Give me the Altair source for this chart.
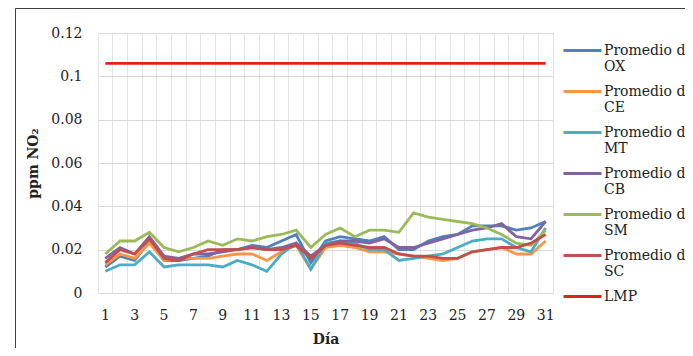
import altair as alt
import pandas as pd

days = list(range(1, 32))

ox = [0.012, 0.017, 0.015, 0.024, 0.015, 0.015, 0.016, 0.017, 0.020, 0.020,
      0.022, 0.021, 0.024, 0.027, 0.014, 0.024, 0.026, 0.025, 0.024, 0.026,
      0.020, 0.020, 0.024, 0.026, 0.027, 0.031, 0.031, 0.031, 0.029, 0.030, 0.033]
ce = [0.013, 0.018, 0.016, 0.023, 0.015, 0.016, 0.016, 0.016, 0.017, 0.018,
      0.018, 0.015, 0.019, 0.022, 0.011, 0.021, 0.022, 0.021, 0.019, 0.019,
      0.018, 0.017, 0.016, 0.015, 0.016, 0.019, 0.020, 0.021, 0.018, 0.018, 0.024]
mt = [0.010, 0.013, 0.013, 0.019, 0.012, 0.013, 0.013, 0.013, 0.012, 0.015,
      0.013, 0.010, 0.018, 0.023, 0.011, 0.023, 0.024, 0.023, 0.020, 0.020,
      0.015, 0.016, 0.017, 0.018, 0.021, 0.024, 0.025, 0.025, 0.021, 0.019, 0.030]
cb = [0.016, 0.021, 0.018, 0.026, 0.017, 0.016, 0.018, 0.018, 0.019, 0.020,
      0.021, 0.020, 0.021, 0.023, 0.017, 0.022, 0.024, 0.024, 0.023, 0.025,
      0.021, 0.021, 0.023, 0.025, 0.027, 0.029, 0.030, 0.032, 0.026, 0.025, 0.033]
sm = [0.018, 0.024, 0.024, 0.028, 0.021, 0.019, 0.021, 0.024, 0.022, 0.025,
      0.024, 0.026, 0.027, 0.029, 0.021, 0.027, 0.030, 0.026, 0.029, 0.029,
      0.028, 0.037, 0.035, 0.034, 0.033, 0.032, 0.030, 0.027, 0.023, 0.022, 0.029]
sc = [0.014, 0.020, 0.018, 0.025, 0.016, 0.015, 0.018, 0.020, 0.020, 0.020,
      0.021, 0.020, 0.020, 0.022, 0.016, 0.022, 0.023, 0.022, 0.021, 0.021,
      0.018, 0.017, 0.017, 0.016, 0.016, 0.019, 0.020, 0.021, 0.021, 0.023, 0.027]
lmp_value = 0.106

series_names = ["Promedio de OX", "Promedio de CE", "Promedio de MT",
                "Promedio de CB", "Promedio de SM", "Promedio de SC", "LMP"]
series_colors = ["#4F81BD", "#F79646", "#4BACC6", "#8064A2", "#9BBB59", "#C0504D", "#E0201B"]
y_ticks = [0, 0.02, 0.04, 0.06, 0.08, 0.1, 0.12]

values = [ox, ce, mt, cb, sm, sc, [lmp_value] * len(days)]
rows = []
for name, vals in zip(series_names, values):
    for d, v in zip(days, vals):
        rows.append({"dia": d, "valor": v, "serie": name})
df = pd.DataFrame(rows)

FONT = "DejaVu Serif"

lines = alt.Chart(df).mark_line(strokeWidth=2.8).encode(
    x=alt.X("dia:O", bandPosition=0.5,
            scale=alt.Scale(type="band", paddingInner=0, paddingOuter=0),
            axis=alt.Axis(title="Día", labelAngle=0,
                          labelExpr="datum.value % 2 == 1 ? datum.label : ''",
                          grid=True, bandPosition=0, gridColor="#E4E4E4",
                          ticks=False, domainColor="#D9D9D9",
                          labelPadding=15, titlePadding=10)),
    y=alt.Y("valor:Q", scale=alt.Scale(domain=[0, 0.12], nice=False, zero=True),
            axis=alt.Axis(title="ppm NO₂", values=y_ticks, format=".2~f",
                          grid=True, gridColor="#D9D9D9", domain=False, ticks=False,
                          labelPadding=16, titlePadding=10)),
    color=alt.Color("serie:N",
                    scale=alt.Scale(domain=series_names, range=series_colors),
                    legend=alt.Legend(title=None, orient="none", legendX=473.5, legendY=6.5,
                                      symbolType="M-2,0L2,0", symbolSize=361,
                                      symbolStrokeWidth=3, labelOffset=10.5, padding=0,
                                      rowPadding=7,
                                      labelExpr="datum.label == 'LMP' ? ['LMP', ''] : ['Promedio de', replace(datum.label, 'Promedio de ', '')]")),
    strokeWidth=alt.condition("datum.serie == 'LMP'", alt.value(3.5), alt.value(2.8)),
)

frame = alt.Chart(pd.DataFrame({"f": [0]})).mark_rect(
    fill=None, stroke="#404040", strokeWidth=1
).encode(x=alt.value(-82.5), x2=alt.value(700), y=alt.value(-24.5), y2=alt.value(400))

chart = alt.layer(frame, lines).properties(
    width=455, height=260,
    autosize=alt.AutoSizeParams(type="none"),
    padding={"left": 90, "top": 25, "right": 132, "bottom": 55},
).configure_view(stroke="#E4E4E4").configure_axis(
    labelFont=FONT, labelFontSize=14, labelColor="#222222",
    titleFont=FONT, titleFontSize=14, titleFontWeight="bold", titleColor="#222222",
).configure_legend(
    labelFont=FONT, labelFontSize=14, labelColor="#222222", labelLimit=0
)

chart.save("out.html", embed_options={"renderer": "svg", "actions": False})
